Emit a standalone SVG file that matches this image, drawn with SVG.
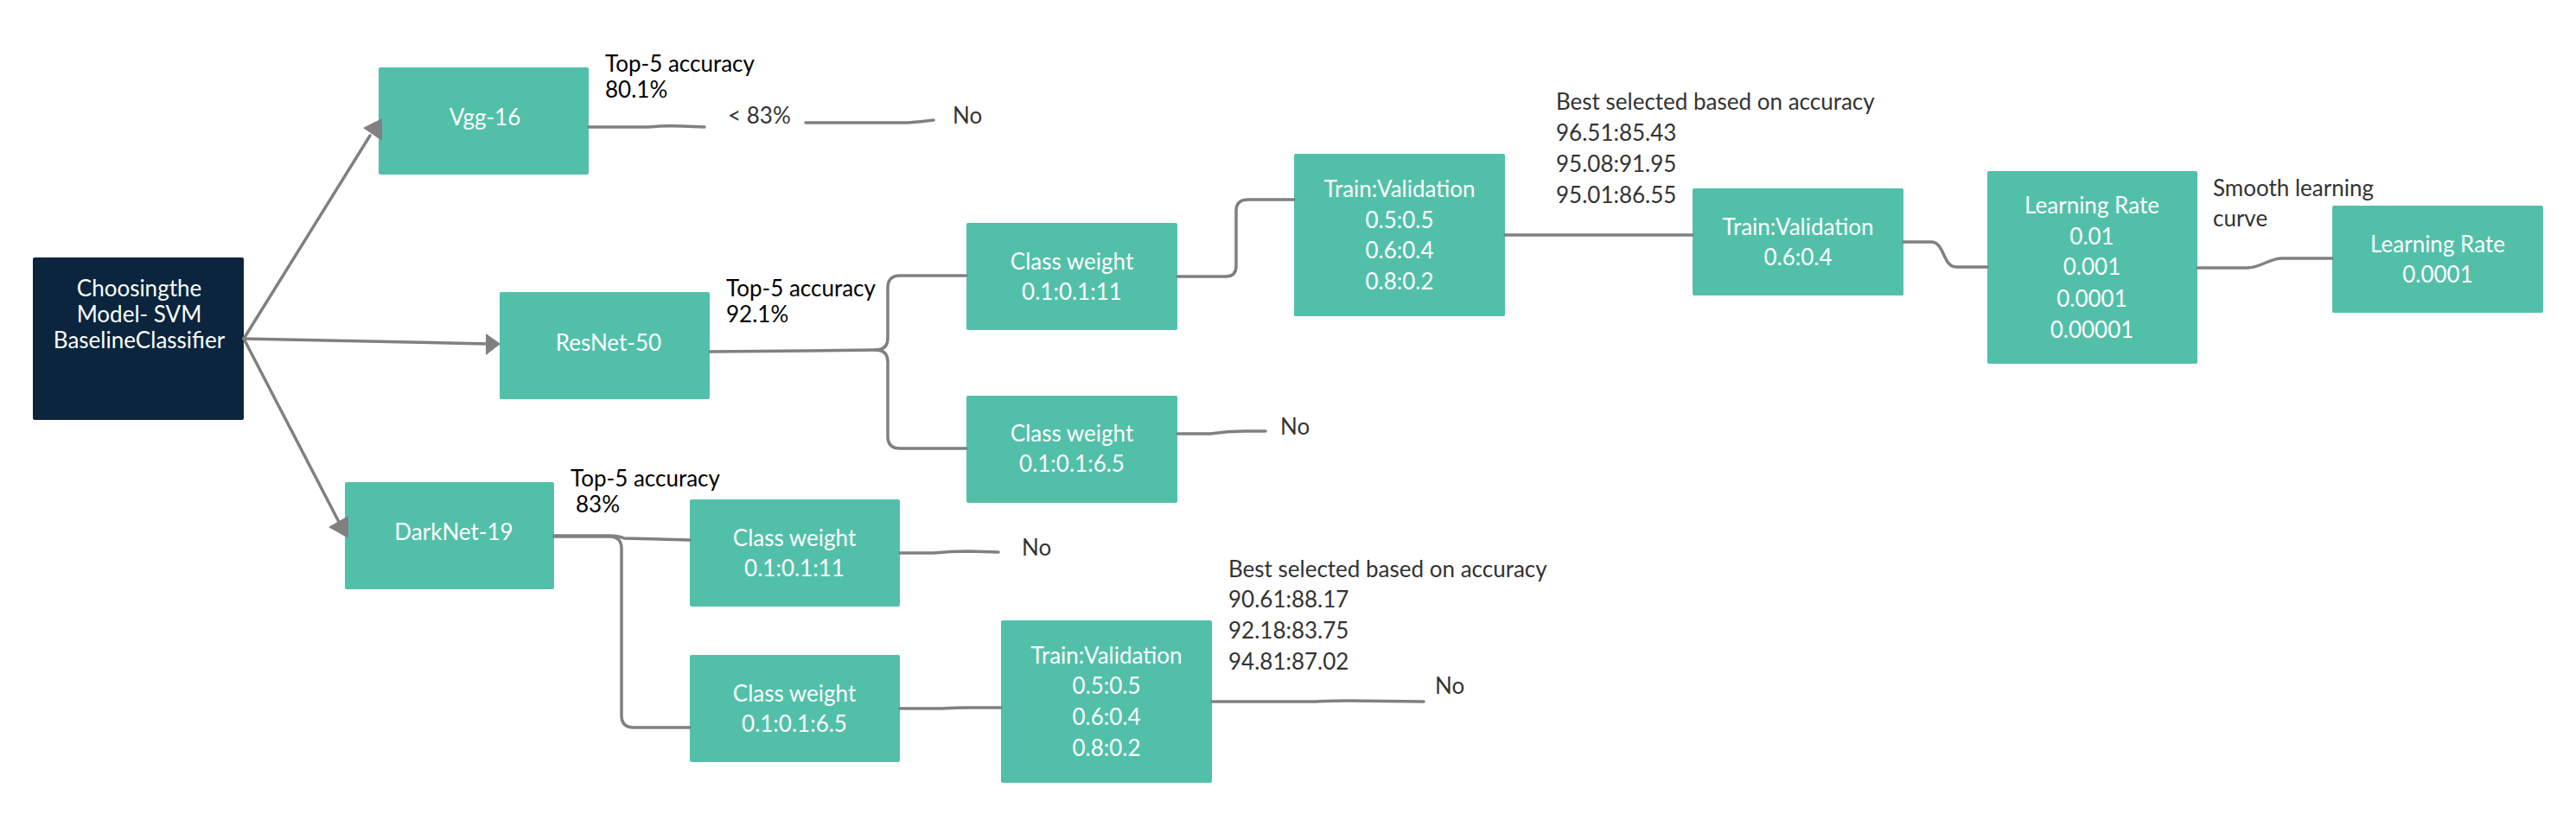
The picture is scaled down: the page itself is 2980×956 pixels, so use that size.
<svg xmlns="http://www.w3.org/2000/svg" width="2980" height="956" viewBox="0 0 2980 956">
<style>
  text { font-family: Lato, "Liberation Sans", sans-serif; font-size: 26px; }
  .box { fill: #52C0A9; }
  .root { fill: #0A253D; }
  .nt { fill: #FFFFFF; text-anchor: middle; }
  .lb { fill: #000000; }
  .gl { fill: #333333; }
  .conn { fill: none; stroke: #808080; stroke-width: 3.5; stroke-linecap: round; stroke-linejoin: round; }
  .ah { fill: #808080; }
</style>
<rect width="2980" height="956" fill="#FFFFFF"/>

<g id="root">
  <rect class="root" x="38" y="298" width="244" height="188" rx="2"/>
  <text class="nt" x="161" y="343">Choosingthe</text>
  <text class="nt" x="161" y="373">Model- SVM</text>
  <text class="nt" x="161" y="403">BaselineClassifier</text>
</g>

<g id="vgg16">
  <rect class="box" x="438" y="78" width="243" height="124" rx="2"/>
  <text class="nt" x="561" y="145">Vgg-16</text>
</g>

<g id="resnet50">
  <rect class="box" x="578" y="338" width="243" height="124" rx="2"/>
  <text class="nt" x="704" y="406">ResNet-50</text>
</g>

<g id="darknet19">
  <rect class="box" x="399" y="558" width="242" height="124" rx="2"/>
  <text class="nt" x="525" y="625">DarkNet-19</text>
</g>

<g id="rn-cw11">
  <rect class="box" x="1118" y="258" width="244" height="124" rx="2"/>
  <text class="nt" x="1240" y="312">Class weight</text>
  <text class="nt" x="1240" y="347">0.1:0.1:11</text>
</g>

<g id="rn-cw65">
  <rect class="box" x="1118" y="458" width="244" height="124" rx="2"/>
  <text class="nt" x="1240" y="511">Class weight</text>
  <text class="nt" x="1240" y="546">0.1:0.1:6.5</text>
</g>

<g id="rn-tv">
  <rect class="box" x="1497" y="178" width="244" height="188" rx="2"/>
  <text class="nt" x="1619" y="228">Train:Validation</text>
  <text class="nt" x="1619" y="264">0.5:0.5</text>
  <text class="nt" x="1619" y="299">0.6:0.4</text>
  <text class="nt" x="1619" y="335">0.8:0.2</text>
</g>

<g id="rn-tv2">
  <rect class="box" x="1958" y="218" width="244" height="124" rx="2"/>
  <text class="nt" x="2080" y="272">Train:Validation</text>
  <text class="nt" x="2080" y="307">0.6:0.4</text>
</g>

<g id="lr1">
  <rect class="box" x="2299" y="198" width="243" height="223" rx="2"/>
  <text class="nt" x="2420" y="247">Learning Rate</text>
  <text class="nt" x="2420" y="283">0.01</text>
  <text class="nt" x="2420" y="318">0.001</text>
  <text class="nt" x="2420" y="355">0.0001</text>
  <text class="nt" x="2420" y="391">0.00001</text>
</g>

<g id="lr2">
  <rect class="box" x="2698" y="238" width="244" height="124" rx="2"/>
  <text class="nt" x="2820" y="292">Learning Rate</text>
  <text class="nt" x="2820" y="327">0.0001</text>
</g>

<g id="dn-cw11">
  <rect class="box" x="798" y="578" width="243" height="124" rx="2"/>
  <text class="nt" x="919" y="632">Class weight</text>
  <text class="nt" x="919" y="667">0.1:0.1:11</text>
</g>

<g id="dn-cw65">
  <rect class="box" x="798" y="758" width="243" height="124" rx="2"/>
  <text class="nt" x="919" y="812">Class weight</text>
  <text class="nt" x="919" y="847">0.1:0.1:6.5</text>
</g>

<g id="dn-tv">
  <rect class="box" x="1158" y="718" width="244" height="188" rx="2"/>
  <text class="nt" x="1280" y="768">Train:Validation</text>
  <text class="nt" x="1280" y="803">0.5:0.5</text>
  <text class="nt" x="1280" y="839">0.6:0.4</text>
  <text class="nt" x="1280" y="875">0.8:0.2</text>
</g>

<g id="connectors">
  <path class="conn" d="M282,392 L428,157"/>
  <polygon class="ah" points="420,148 442,137 442,163"/>
  <path class="conn" d="M282,392 L565,398"/>
  <polygon class="ah" points="562,386 562,411 579,398"/>
  <path class="conn" d="M282,392 L392,604"/>
  <polygon class="ah" points="380,610 403,597 403,623"/>

  <path class="conn" d="M681,147 L750,147 Q770,145 790,146 L815,147"/>
  <path class="conn" d="M932,142 L1050,142 Q1065,141 1080,139"/>

  <path class="conn" d="M821,407 L933,406 L1013,405 Q1027,405 1027,391 L1027,333 Q1027,319 1041,319 L1118,319"/>
  <path class="conn" d="M1013,405 Q1027,405 1027,419 L1027,505 Q1027,519 1041,519 L1118,519"/>

  <path class="conn" d="M1362,320 L1418,320 Q1430,320 1430,308 L1430,244 Q1430,231 1444,231 L1497,231"/>
  <path class="conn" d="M1362,502 L1400,502 Q1420,499 1440,499 L1464,499"/>
  <path class="conn" d="M1741,272 L1958,272"/>
  <path class="conn" d="M2202,280 L2234,280 C2250,280 2247,309 2263,309 L2299,309"/>
  <path class="conn" d="M2542,310 L2600,310 C2615,310 2625,299 2640,299 L2698,299"/>

  <path class="conn" d="M641,620 L705,620 Q715,620 722,623 L798,625"/>
  <path class="conn" d="M641,621 L705,621 Q719,621 719,635 L719,828 Q719,842 733,842 L798,842"/>
  <path class="conn" d="M1041,640 L1080,640 Q1100,638 1120,638 L1155,639"/>
  <path class="conn" d="M1041,820 L1090,820 Q1105,819 1120,819 L1158,819"/>
  <path class="conn" d="M1402,812 L1520,812 Q1540,811 1560,811 L1647,812"/>
</g>

<g id="labels">
  <text class="lb" x="700" y="83">Top-5 accuracy</text>
  <text class="lb" x="700" y="113">80.1%</text>
  <text class="gl" x="842" y="143">&lt; 83%</text>
  <text class="gl" x="1102" y="143">No</text>

  <text class="lb" x="840" y="343">Top-5 accuracy</text>
  <text class="lb" x="840" y="373">92.1%</text>
  <text class="gl" x="1481" y="503">No</text>

  <text class="gl" x="1800" y="127">Best selected based on accuracy</text>
  <text class="gl" x="1800" y="163">96.51:85.43</text>
  <text class="gl" x="1800" y="199">95.08:91.95</text>
  <text class="gl" x="1800" y="235">95.01:86.55</text>

  <text class="gl" x="2560" y="227">Smooth learning</text>
  <text class="gl" x="2560" y="262">curve</text>

  <text class="lb" x="660" y="563">Top-5 accuracy</text>
  <text class="lb" x="666" y="593">83%</text>
  <text class="gl" x="1182" y="643">No</text>

  <text class="gl" x="1421" y="668">Best selected based on accuracy</text>
  <text class="gl" x="1421" y="703">90.61:88.17</text>
  <text class="gl" x="1421" y="739">92.18:83.75</text>
  <text class="gl" x="1421" y="775">94.81:87.02</text>
  <text class="gl" x="1660" y="803">No</text>
</g>
</svg>
